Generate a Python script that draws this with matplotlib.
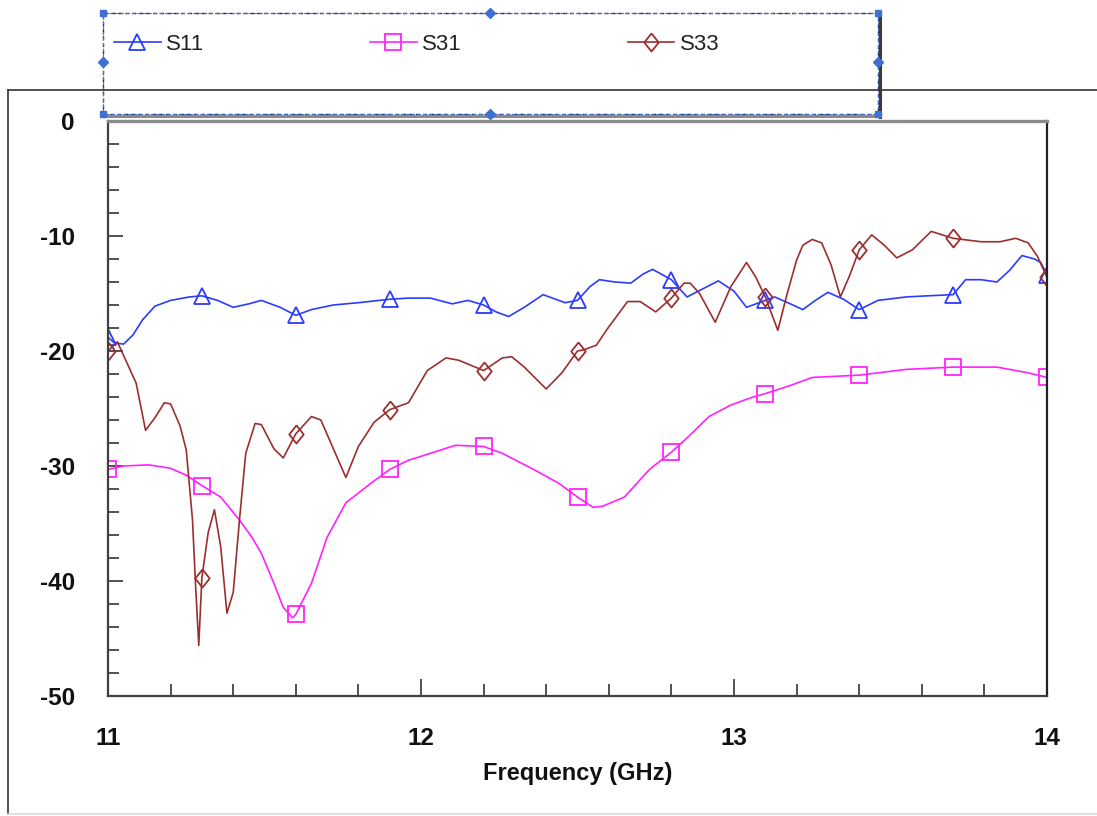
import matplotlib as mpl
mpl.use('Agg')
mpl.rcParams['axes.unicode_minus'] = False

import numpy as np
import matplotlib.pyplot as plt
from matplotlib.patches import Rectangle
from matplotlib.lines import Line2D
from matplotlib.ticker import MultipleLocator

# S-parameter sweeps (frequency in GHz, magnitude in dB)
S11_F = [11.00, 11.02, 11.05, 11.08, 11.11, 11.15, 11.20, 11.26, 11.30, 11.35,
         11.40, 11.45, 11.49, 11.55, 11.60, 11.65, 11.72, 11.80, 11.90, 11.96,
         12.03, 12.10, 12.15, 12.20, 12.24, 12.28, 12.33, 12.39, 12.46, 12.50,
         12.54, 12.57, 12.62, 12.67, 12.71, 12.74, 12.80, 12.85, 12.90, 12.95,
         13.00, 13.04, 13.10, 13.13, 13.18, 13.22, 13.26, 13.30, 13.35, 13.40,
         13.46, 13.55, 13.62, 13.70, 13.74, 13.79, 13.84, 13.88, 13.92, 13.96,
         13.98, 14.00]
S11_DB = [-18.8, -19.3, -19.4, -18.6, -17.3, -16.1, -15.6, -15.3, -15.2, -15.6,
          -16.2, -15.9, -15.6, -16.2, -16.9, -16.4, -16.0, -15.8, -15.5, -15.4,
          -15.4, -15.9, -15.6, -16.0, -16.6, -17.0, -16.2, -15.1, -15.8, -15.6,
          -14.4, -13.8, -14.0, -14.1, -13.3, -12.9, -13.8, -15.3, -14.6, -13.9,
          -14.8, -16.2, -15.6, -15.3, -15.9, -16.4, -15.6, -14.9, -15.5, -16.4,
          -15.6, -15.3, -15.2, -15.1, -13.8, -13.8, -14.0, -13.0, -11.7, -12.0,
          -12.3, -13.4]

S31_F = [11.00, 11.05, 11.13, 11.20, 11.25, 11.30, 11.36, 11.42, 11.46, 11.49,
         11.53, 11.56, 11.59, 11.60, 11.65, 11.70, 11.76, 11.84, 11.90, 11.96,
         12.03, 12.11, 12.20, 12.26, 12.36, 12.44, 12.50, 12.55, 12.58, 12.65,
         12.73, 12.80, 12.86, 12.92, 12.99, 13.05, 13.10, 13.18, 13.25, 13.40,
         13.55, 13.70, 13.84, 13.94, 14.00]
S31_DB = [-30.3, -30.0, -29.9, -30.2, -30.8, -31.7, -32.7, -34.7, -36.2, -37.6,
          -40.2, -42.3, -43.2, -42.9, -40.2, -36.2, -33.2, -31.5, -30.3, -29.5,
          -28.9, -28.2, -28.3, -28.9, -30.3, -31.5, -32.7, -33.6, -33.5, -32.7,
          -30.3, -28.8, -27.3, -25.7, -24.7, -24.1, -23.7, -23.0, -22.3, -22.1,
          -21.6, -21.4, -21.4, -21.9, -22.3]

S33_F = [11.00, 11.03, 11.06, 11.09, 11.12, 11.15, 11.18, 11.20, 11.23, 11.25,
         11.27, 11.28, 11.29, 11.30, 11.32, 11.34, 11.36, 11.38, 11.40, 11.42,
         11.44, 11.47, 11.49, 11.53, 11.56, 11.60, 11.65, 11.68, 11.72, 11.76,
         11.80, 11.85, 11.90, 11.96, 12.02, 12.08, 12.12, 12.20, 12.26, 12.29,
         12.33, 12.40, 12.45, 12.50, 12.52, 12.56, 12.60, 12.66, 12.70, 12.75,
         12.80, 12.84, 12.86, 12.89, 12.94, 12.99, 13.04, 13.07, 13.10, 13.14,
         13.17, 13.20, 13.22, 13.25, 13.28, 13.31, 13.34, 13.37, 13.40, 13.44,
         13.48, 13.52, 13.57, 13.63, 13.70, 13.79, 13.85, 13.90, 13.94, 13.97,
         14.00]
S33_DB = [-20.0, -19.2, -21.0, -22.8, -26.9, -25.8, -24.5, -24.6, -26.5, -28.6,
          -34.7, -40.5, -45.6, -39.7, -35.8, -33.8, -37.0, -42.8, -41.0, -34.7,
          -28.9, -26.3, -26.4, -28.5, -29.3, -27.2, -25.7, -26.0, -28.5, -31.0,
          -28.3, -26.2, -25.1, -24.5, -21.7, -20.6, -20.8, -21.7, -20.6, -20.5,
          -21.4, -23.3, -21.9, -20.0, -19.9, -19.5, -17.9, -15.7, -15.7, -16.6,
          -15.4, -14.1, -14.1, -15.0, -17.5, -14.4, -12.3, -13.6, -15.3, -18.2,
          -15.0, -12.1, -10.8, -10.3, -10.6, -12.5, -15.3, -13.4, -11.2, -9.9,
          -10.8, -11.9, -11.2, -9.6, -10.2, -10.5, -10.5, -10.2, -10.6, -11.8,
          -13.6]

# symbols are placed every 0.3 GHz along each trace
MARKER_F = [11.0, 11.3, 11.6, 11.9, 12.2, 12.5, 12.8, 13.1, 13.4, 13.7, 14.0]

# upright diamond, a little taller than wide
DIAMOND = [(0, 1), (0.8, 0), (0, -1), (-0.8, 0), (0, 1)]

SERIES = [
    ('S11', S11_F, S11_DB, '#2a3cff', '^', 11),
    ('S31', S31_F, S31_DB, '#ff22ff', 's', 11.5),
    ('S33', S33_F, S33_DB, '#9b2f2f', DIAMOND, 13),
]

W, H = 1097, 816
plt.rcParams['font.family'] = ['Liberation Sans', 'DejaVu Sans']

fig = plt.figure(figsize=(W / 100, H / 100), dpi=100)


def fx(px):
    return px / W


def fy(py):
    return 1 - py / H


# outer panel frame
fig.add_artist(Line2D([fx(8), fx(8)], [fy(90), fy(814)], color='#333333', lw=1.2))
fig.add_artist(Line2D([fx(8), fx(1097)], [fy(90), fy(90)], color='#333333', lw=1.2))
fig.add_artist(Line2D([fx(8), fx(1097)], [fy(814), fy(814)], color='#d8d8d8', lw=1.2))

ax = fig.add_axes([fx(108), fy(696), fx(1047 - 108), (696 - 121) / H])

handles = []
for name, f, db, color, marker, ms in SERIES:
    f = np.asarray(f)
    idx = [int(np.argmin(np.abs(f - m))) for m in MARKER_F]
    ax.plot(f, db, color=color, lw=1.2, marker=marker, ms=ms,
            markevery=idx, mfc='none', mec=color, mew=1.3)
    handles.append(Line2D([], [], color=color, lw=1.2, marker=marker, ms=ms,
                          mfc='none', mec=color, mew=1.3, label=name))

ax.set_xlim(11, 14)
ax.set_ylim(-50, 0)
ax.xaxis.set_major_locator(MultipleLocator(1))
ax.xaxis.set_minor_locator(MultipleLocator(0.2))
ax.yaxis.set_major_locator(MultipleLocator(10))
ax.yaxis.set_minor_locator(MultipleLocator(2))

ax.tick_params(which='both', direction='in', top=False, right=False,
               color='#333333', width=1.2)
ax.tick_params(axis='x', which='major', length=12, pad=22)
ax.tick_params(axis='x', which='minor', length=8.5)
ax.tick_params(axis='y', which='major', length=11, pad=24)
ax.tick_params(axis='y', which='minor', length=8)
for lab in ax.get_xticklabels() + ax.get_yticklabels():
    lab.set_fontsize(17.5)
    lab.set_fontweight('bold')
    lab.set_color('#111111')

ax.spines['left'].set_color('#404040')
ax.spines['left'].set_linewidth(1.6)
ax.spines['bottom'].set_color('#404040')
ax.spines['bottom'].set_linewidth(1.6)
ax.spines['top'].set_color('#8a8a8a')
ax.spines['top'].set_linewidth(2.4)
ax.spines['right'].set_color('#222222')
ax.spines['right'].set_linewidth(1.6)

ax.set_xlabel('Frequency (GHz)', fontsize=17, fontweight='bold', color='#111111',
              labelpad=9)

# legend panel with its selection frame and grab handles
fig.add_artist(Line2D([fx(880), fx(880)], [fy(16), fy(117)], color='#3a3a3a', lw=2.2))
fig.add_artist(Line2D([fx(106), fx(880)], [fy(116), fy(116)], color='#8a8a8a', lw=2.2))
fig.add_artist(Rectangle((fx(103), fy(114)), fx(878 - 103), (114 - 13) / H,
                         facecolor='white', edgecolor='#2a2a40', lw=1.0,
                         linestyle=(0, (3, 2))))
fig.add_artist(Rectangle((fx(103), fy(114)), fx(878 - 103), (114 - 13) / H,
                         facecolor='none', edgecolor='#4a78d0', lw=0.8,
                         linestyle=(2.5, (3, 2))))
for hx, hy in [(103, 13), (878, 13), (103, 114), (878, 114)]:
    fig.add_artist(Line2D([fx(hx)], [fy(hy)], marker='s', ms=5, color='#3f6fd0'))
for hx, hy in [(490, 13), (490, 114), (103, 62), (878, 62)]:
    fig.add_artist(Line2D([fx(hx)], [fy(hy)], marker='D', ms=5, color='#3f6fd0'))

leg = fig.legend(handles=handles, loc='center left', numpoints=1,
                 bbox_to_anchor=(fx(114), fy(44)), ncol=3, frameon=False,
                 fontsize=16, handlelength=2.1, handletextpad=0.25,
                 columnspacing=7.45, borderpad=0, borderaxespad=0, markerscale=1.0)
for t in leg.get_texts():
    t.set_color('#222222')

fig.savefig('out.png', dpi=100)
